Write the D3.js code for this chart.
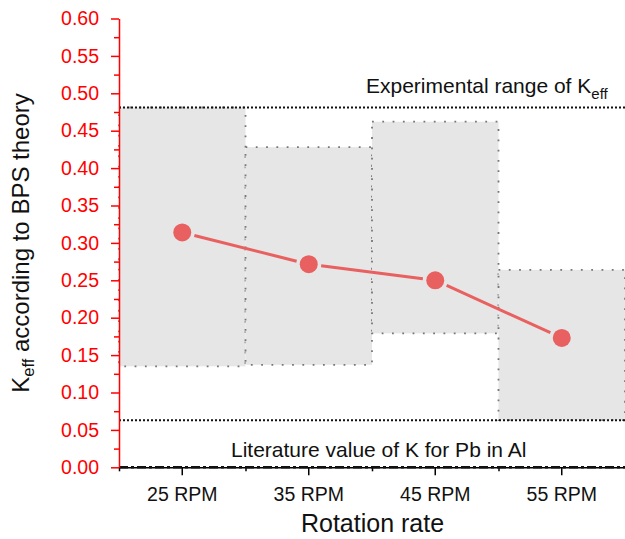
<!DOCTYPE html>
<html><head><meta charset="utf-8">
<script src="https://cdn.jsdelivr.net/npm/d3@7"></script>
<style>body{margin:0;background:#fff}svg{display:block;font-family:"Liberation Sans",Arial,sans-serif}</style>
</head><body><svg id="c" width="625" height="539"></svg>
<script>
const categories = ["25 RPM","35 RPM","45 RPM","55 RPM"];
const kEff = [0.314, 0.2715, 0.250, 0.173];
const rangeLow = [0.135, 0.137, 0.179, 0.063];
const rangeHigh = [0.481, 0.428, 0.462, 0.264];
const expRange = [0.063, 0.481];
const literatureK = 0.0;
const yTicks = [0,0.05,0.1,0.15,0.2,0.25,0.3,0.35,0.4,0.45,0.5,0.55,0.6];
const yMinor = [0.025,0.075,0.125,0.175,0.225,0.275,0.325,0.375,0.425,0.475,0.525,0.575];

const svg = d3.select("#c");
const L = 119, R = 625, T = 18.5, B = 467.3;
const y = d3.scaleLinear().domain([0,0.6]).range([B,T]);
const x = d3.scaleBand().domain(categories).range([L,R]).paddingInner(0).paddingOuter(0);
const xEdge = d3.scaleLinear().domain([0,categories.length]).range([L,R]);

// boxes
svg.append("g").selectAll("rect").data(categories).join("rect")
  .attr("x", d => x(d)).attr("width", x.bandwidth())
  .attr("y", (d,i) => y(rangeHigh[i])).attr("height", (d,i) => y(rangeLow[i]) - y(rangeHigh[i]))
  .attr("fill", "#e6e6e6").attr("stroke", "#777").attr("stroke-width", 1.8)
  .attr("stroke-dasharray", "1.8,8.5");

// experimental range lines
svg.append("g").selectAll("line").data(expRange).join("line")
  .attr("x1", L).attr("x2", R).attr("y1", d => y(d)).attr("y2", d => y(d))
  .attr("stroke", "#111").attr("stroke-width", 2).attr("stroke-dasharray", "2,2");

// x axis
const xg = svg.append("g").attr("transform", `translate(0,${B})`)
  .call(d3.axisBottom(x).tickSize(8).tickSizeOuter(0));
xg.select(".domain").attr("stroke","#000").attr("stroke-width",1.5);
xg.selectAll(".tick line").attr("stroke","#000").attr("stroke-width",1.5);
xg.selectAll(".tick text").attr("font-size", 19.5).attr("fill","#111").attr("dy","1.15em").attr("font-family","Liberation Sans, Arial, sans-serif");
const xm = svg.append("g").attr("transform", `translate(0,${B})`)
  .call(d3.axisBottom(xEdge).tickValues([0,1,2,3]).tickSize(4).tickFormat(""));
xm.select(".domain").remove();
xm.selectAll(".tick line").attr("stroke","#000").attr("stroke-width",1.5);

// literature line
svg.append("line").attr("x1", L).attr("x2", R).attr("y1", y(literatureK)).attr("y2", y(literatureK))
  .attr("stroke", "#111").attr("stroke-width", 2.5).attr("stroke-dasharray", "9,3,3,3");

// y axis
const yg = svg.append("g").attr("transform", `translate(${L},0)`)
  .call(d3.axisLeft(y).tickValues(yTicks).tickFormat(d3.format(".2f")).tickSize(8).tickSizeOuter(0));
yg.select(".domain").attr("stroke","#ff0000").attr("stroke-width",1.5);
yg.selectAll(".tick line").attr("stroke","#ff0000").attr("stroke-width",1.5);
yg.selectAll(".tick text").attr("fill","#ff0000").attr("font-size",19.5).attr("x",-20).attr("font-family","Liberation Sans, Arial, sans-serif");
const ym = svg.append("g").attr("transform", `translate(${L},0)`)
  .call(d3.axisLeft(y).tickValues(yMinor).tickSize(5).tickFormat(""));
ym.select(".domain").remove();
ym.selectAll(".tick line").attr("stroke","#ff0000").attr("stroke-width",1.5);

// series line with gaps
const pts = categories.map((c,i) => [x(c) + x.bandwidth()/2, y(kEff[i])]);
const r = 9, gap = 3.5;
const segs = [];
for (let i = 0; i < pts.length - 1; i++) {
  const [x1,y1] = pts[i], [x2,y2] = pts[i+1];
  const dx = x2-x1, dy = y2-y1, len = Math.hypot(dx,dy);
  const ux = dx/len, uy = dy/len, s = r + gap;
  segs.push([x1+ux*s, y1+uy*s, x2-ux*s, y2-uy*s]);
}
svg.append("g").selectAll("line").data(segs).join("line")
  .attr("x1", d=>d[0]).attr("y1", d=>d[1]).attr("x2", d=>d[2]).attr("y2", d=>d[3])
  .attr("stroke", "#e8605f").attr("stroke-width", 3);
svg.append("g").selectAll("circle").data(pts).join("circle")
  .attr("cx", d=>d[0]).attr("cy", d=>d[1]).attr("r", r).attr("fill", "#e8605f");

// annotations
const t1 = svg.append("text").attr("x", 366).attr("y", 93).attr("font-size", 21).attr("fill","#111");
t1.append("tspan").text("Experimental range of K");
t1.append("tspan").attr("font-size", 15).attr("dy", 6).text("eff");
svg.append("text").attr("x", 231).attr("y", 457).attr("font-size", 21).attr("fill","#111")
  .text("Literature value of K for Pb in Al");

// axis titles
svg.append("text").attr("x", (L+R)/2 + 0.5).attr("y", 532).attr("text-anchor","middle")
  .attr("font-size", 25).attr("fill","#111").text("Rotation rate");
const yt = svg.append("text").attr("transform", "translate(29,243) rotate(-90)").attr("text-anchor","middle")
  .attr("font-size", 24).attr("fill","#111");
yt.append("tspan").text("K");
yt.append("tspan").attr("font-size", 16.5).attr("dy", 5).text("eff");
yt.append("tspan").attr("dy", -5).text(" according to BPS theory");
</script></body></html>
